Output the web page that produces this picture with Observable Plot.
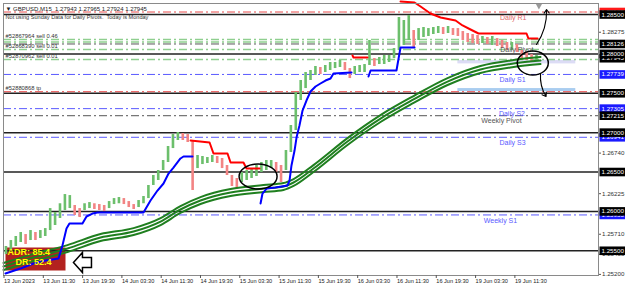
<!DOCTYPE html>
<html><head><meta charset="utf-8">
<script src="https://cdn.jsdelivr.net/npm/d3@7"></script>
<script src="https://cdn.jsdelivr.net/npm/@observablehq/plot@0.6"></script>
<style>body{margin:0;background:#fff}svg{display:block}</style>
</head><body><div id="chart"></div>
<script>
// ---------- data (M15 bars indexed from the first time tick; hourly ranges) ----------
const candleHigh = [1.25554,1.25630,1.25681,1.25732,1.25706,1.25757,1.25732,1.25757,1.25782,1.26036,
1.25986,1.26097,1.26214,1.26201,1.26075,1.26036,1.26097,1.26112,1.26097,1.26087,
1.26075,1.26125,1.26163,1.26176,1.26163,1.26125,1.26087,1.26138,1.26189,1.26329,
1.26456,1.26519,1.26646,1.26824,1.26976,1.27002,1.26989,1.26976,1.26900,1.26710,
1.26697,1.26684,1.26710,1.26697,1.26672,1.26583,1.26456,1.26418,1.26494,1.26519,
1.26544,1.26583,1.26621,1.26646,1.26646,1.26621,1.26583,1.26773,1.27091,1.27510,
1.27662,1.27764,1.27789,1.27840,1.27827,1.27853,1.27891,1.27891,1.27916,1.27891,
1.27814,1.27840,1.27853,1.27865,1.28170,1.27941,1.27954,1.27980,1.27980,1.28068,
1.28462,1.28424,1.28488,1.28297,1.28322,1.28335,1.28322,1.28335,1.28348,1.28335,
1.28348,1.28322,1.28322,1.28284,1.28259,1.28246,1.28234,1.28221,1.28208,1.28221,
1.28195,1.28170,1.28145,1.28145,1.28119,1.28043,1.28018,1.27992,1.27980];
const candleLow = [1.25452,1.25503,1.25554,1.25605,1.25580,1.25630,1.25630,1.25656,1.25681,1.25757,
1.25821,1.25910,1.26011,1.26036,1.25948,1.25922,1.26011,1.26036,1.26024,1.26011,
1.25998,1.26036,1.26087,1.26097,1.26087,1.26049,1.26024,1.26049,1.26097,1.26163,
1.26329,1.26392,1.26519,1.26621,1.26798,1.26900,1.26900,1.26875,1.26265,1.26544,
1.26595,1.26608,1.26621,1.26608,1.26544,1.26456,1.26316,1.26290,1.26367,1.26392,
1.26418,1.26443,1.26494,1.26519,1.26544,1.26494,1.26367,1.26519,1.26748,1.27027,
1.27408,1.27560,1.27662,1.27726,1.27738,1.27764,1.27789,1.27814,1.27827,1.27789,
1.27687,1.27738,1.27764,1.27764,1.27853,1.27840,1.27865,1.27865,1.27891,1.27941,
1.28043,1.28107,1.28170,1.28068,1.28170,1.28208,1.28221,1.28246,1.28259,1.28246,
1.28259,1.28234,1.28221,1.28170,1.28145,1.28132,1.28119,1.28132,1.28119,1.28107,
1.28094,1.28068,1.28043,1.28043,1.28018,1.27941,1.27916,1.27891,1.27916];

// moving-average ribbon (three lines)
const maBars  = [0,24.4,52.1,79.0,105.9,127.9,144.1,160.4,184.9,211.7,228.0,236.2,252.4,280.1,307.0,333.9,361.6,388.4,415.3,437.3];
const maUpper = [1.25344,1.25458,1.25572,1.25712,1.25788,1.25915,1.26068,1.26182,1.26284,1.26334,1.26360,1.26411,1.26588,1.26931,1.27223,1.27465,1.27693,1.27846,1.27922,1.27960];
const maMid   = [1.25300,1.25414,1.25528,1.25668,1.25744,1.25871,1.26024,1.26138,1.26240,1.26290,1.26316,1.26367,1.26544,1.26887,1.27179,1.27421,1.27649,1.27802,1.27878,1.27916];
const maLower = [1.25256,1.25370,1.25484,1.25624,1.25700,1.25827,1.25980,1.26094,1.26196,1.26246,1.26272,1.26323,1.26500,1.26843,1.27135,1.27377,1.27605,1.27758,1.27834,1.27872];

// blue trailing support
const supportBars   = [1.6,13.8,24.4,34.2,44.8,48.0,51.3,53.7,64.3,67.6,72.5,76.5,114.0,119.7,125.4,130.3,134.4,138.4,144.1,146.6,153.9,
  209.3,210.9,214.2,221.5,231.3,232.9,234.5,237.0,238.6,241.0,243.5,246.7,250.0,254.1,258.1,262.2,266.3,268.7,283.4,
  297.2,298.9,320.0,321.7,323.3,334.7];
const supportPrices = [1.25211,1.25274,1.25338,1.25376,1.25402,1.25567,1.25782,1.25846,1.25846,1.25935,1.25973,1.25986,1.25986,1.26138,1.26265,1.26354,1.26481,1.26557,1.26672,1.26697,1.26697,
  1.26100,1.26227,1.26290,1.26303,1.26329,1.26392,1.26583,1.26773,1.26938,1.27091,1.27281,1.27408,1.27522,1.27586,1.27624,1.27662,1.27687,1.27751,1.27764,
  1.27713,1.27789,1.27789,1.27941,1.28081,1.28081];
const supportSeg    = [1,1,1,1,1,1,1,1,1,1,1,1,1,1,1,1,1,1,1,1,1, 2,2,2,2,2,2,2,2,2,2,2,2,2,2,2,2,2,2,2, 3,3,3,3,3,3];

// red trailing resistance
const resistBars   = [152.3,167.8,171.0,182.4,184.9,195.4,197.9,208.5, 284.2,285.0,296.4, 323.3,334.7,339.6,347.7,355.9,368.1,373.8,380.3,386.8,425.9,427.5,434.9];
const resistPrices = [1.26900,1.26875,1.26735,1.26735,1.26621,1.26621,1.26544,1.26544, 1.27980,1.27954,1.27954, 1.28665,1.28653,1.28602,1.28513,1.28462,1.28424,1.28361,1.28310,1.28259,1.28259,1.28195,1.28195];
const resistSeg    = [1,1,1,1,1,1,1,1, 2,2,2, 3,3,3,3,3,3,3,3,3,3,3,3];

// horizontal levels
const roundLevels = [1.28500,1.28000,1.27500,1.27000,1.26500,1.26000,1.25500];
const orderLevels = [1.28183,1.28151,1.28056,1.27929];
const tpLevels    = [1.27520];
const pivotNames  = ["Daily R1","Daily Pivot","Daily S1","Daily S2","Weekly Pivot","Daily S3","Weekly S1"];
const pivotPrices = [1.28532,1.28126,1.27739,1.27305,1.27215,1.26941,1.25955];
const pivotKinds  = ["resistance","pivot","support","support","pivot","support","support"];
const pivotLabelBars = [415,418,414.5,414,405.5,414.5,404.7];

// order labels
const orderTexts  = ["#52867964 sell 0.46","#52868390 sell 0.01","#52870962 sell 0.01","#52880868 tp"];
const orderPrices = [1.28183,1.28056,1.27929,1.27520];

// zones
const zoneX1 = [370,370], zoneX2 = [466,466];
const zoneLow = [1.27873,1.27522], zoneHigh = [1.27916,1.27560];
const zoneKinds = ["lavender","sky"];

// right-axis tags
const redTags   = [1.28532];
const blueTags  = [1.27739,1.27305,1.26941,1.25955];
const bidTags   = [1.27945];
const blackTags = [1.28500,1.28126,1.28000,1.27500,1.27215,1.27000,1.26500,1.26000,1.25500];
const grayTicks = [1.28275,1.26740,1.26225,1.25710,1.25455,1.25200];

// time axis
const timeBars   = [0,32,64,96,128,160,192,224,256,288,320,352,384,416];
const timeLabels = ["13 Jun 2023","13 Jun 11:30","13 Jun 19:30","14 Jun 03:30","14 Jun 11:30","14 Jun 19:30","15 Jun 03:30","15 Jun 11:30","15 Jun 19:30","16 Jun 03:30","16 Jun 11:30","16 Jun 19:30","19 Jun 03:30","19 Jun 11:30"];

// texts
const headerLine = ["\u25BC GBPUSD,M15  1.27943 1.27965 1.27924 1.27945"];
const noteLine   = ["Not using Sunday Data for Daily Pivots.  Today is Monday"];
const adrLines   = ["ADR: 85.4"];
const drLines    = ["DR: 52.4"];

// hand-drawn annotations (bar, price)
const ellipseBars = [207.3, 431];
const ellipsePrices = [1.26443, 1.27884];
const arrowFromBar = [434.0, 437.3], arrowFromPrice = [1.28119, 1.27751];
const arrowToBar   = [442.2, 441.8], arrowToPrice   = [1.28564, 1.27459];
const hollowArrowBar = [64.3], hollowArrowPrice = [1.25351];
const shiftBar = [436];

// ---------- build ----------
const candles = candleHigh.map((hi, i) => ({
  bar: i * 4 + 2, hi, lo: candleLow[i],
  up: i === 0 || (hi + candleLow[i]) >= (candleHigh[i - 1] + candleLow[i - 1])
}));
const ma = maBars.map((b, i) => ({bar: b, u: maUpper[i], m: maMid[i], l: maLower[i]}));
const support = supportBars.map((b, i) => ({bar: b, p: supportPrices[i], s: supportSeg[i]}));
const resist = resistBars.map((b, i) => ({bar: b, p: resistPrices[i], s: resistSeg[i]}));
const pivots = pivotNames.map((n, i) => ({name: n, p: pivotPrices[i], kind: pivotKinds[i], bar: pivotLabelBars[i]}));
const orders = orderTexts.map((t, i) => ({t, p: orderPrices[i]}));
const zones = zoneX1.map((x, i) => ({x1: x, x2: zoneX2[i], y1: zoneLow[i], y2: zoneHigh[i], kind: zoneKinds[i]}));
const arrows = arrowFromBar.map((b, i) => ({x1: b, y1: arrowFromPrice[i], x2: arrowToBar[i], y2: arrowToPrice[i]}));

const pivotColor = {resistance: "#e84a4a", pivot: "#555555", support: "#5a5aff"};
const pivotText  = {resistance: "#e06a6a", pivot: "#555555", support: "#5a5aff"};
const zoneColor  = {lavender: "#dcdcf5", sky: "#a9cdf0"};
const DASHDOT = "8,3,2,3";

function ellipseSymbol(rx, ry) {
  const k = 0.5523;
  return {draw(ctx) {
    ctx.moveTo(rx, 0);
    ctx.bezierCurveTo(rx, ry * k, rx * k, ry, 0, ry);
    ctx.bezierCurveTo(-rx * k, ry, -rx, ry * k, -rx, 0);
    ctx.bezierCurveTo(-rx, -ry * k, -rx * k, -ry, 0, -ry);
    ctx.bezierCurveTo(rx * k, -ry, rx, -ry * k, rx, 0);
    ctx.closePath();
  }};
}
const rectSymbol = (x, y, w, h) => ({draw(ctx) { ctx.rect(x, y, w, h); }});
const tagBox = rectSymbol(1, -4.3, 26, 8.6);
const hollowLeft = {draw(ctx) {
  ctx.moveTo(-9, 0); ctx.lineTo(0, -10); ctx.lineTo(0, -5); ctx.lineTo(9, -5);
  ctx.lineTo(9, 5); ctx.lineTo(0, 5); ctx.lineTo(0, 10); ctx.closePath();
}};

const tagMarks = (values, color) => [
  Plot.dot(values, {y: d => d, frameAnchor: "right", symbol: tagBox, fill: color, stroke: "none"}),
  Plot.text(values, {y: d => d, frameAnchor: "right", text: d => d.toFixed(5), dx: 3, textAnchor: "start", fill: "white", fontSize: 6.2})
];

const plot = Plot.plot({
  width: 625, height: 286,
  marginTop: 3, marginBottom: 11, marginLeft: 3, marginRight: 27,
  x: {domain: [0, 484.5]},
  y: {domain: [1.25186, 1.2864]},
  color: {type: "identity"},
  style: {fontFamily: "'Liberation Sans', Arial, sans-serif", fontSize: "6px", background: "white", color: "#222", overflow: "visible"},
  marks: [
    // ADR box (under everything)
    Plot.dot(adrLines, {frameAnchor: "bottom-left", symbol: rectSymbol(2, -28, 60, 23), fill: "#b3221f", stroke: "none"}),
    // zones
    Plot.rect(zones, {x1: "x1", x2: "x2", y1: "y1", y2: "y2", fill: d => zoneColor[d.kind]}),
    // levels
    Plot.ruleY(roundLevels, {stroke: "#222", strokeWidth: 1.5}),
    Plot.ruleY(orderLevels, {stroke: "#8fcf8f", strokeWidth: 1.6, strokeDasharray: DASHDOT}),
    Plot.ruleY(tpLevels, {stroke: "#e84a4a", strokeWidth: 1, strokeDasharray: DASHDOT}),
    Plot.ruleY(pivots, {y: "p", stroke: d => pivotColor[d.kind], strokeWidth: 1, strokeDasharray: DASHDOT}),
    // candles
    Plot.ruleX(candles, {x: "bar", y1: "lo", y2: "hi", stroke: d => d.up ? "#6cbf6c" : "#f28484", strokeWidth: 2.6}),
    // MA ribbon
    Plot.line(ma, {x: "bar", y: "u", stroke: "#1f7f1f", strokeWidth: 2, curve: "monotone-x"}),
    Plot.line(ma, {x: "bar", y: "m", stroke: "#1f7f1f", strokeWidth: 2, curve: "monotone-x"}),
    Plot.line(ma, {x: "bar", y: "l", stroke: "#1f7f1f", strokeWidth: 2, curve: "monotone-x"}),
    // trailing lines
    Plot.line(support, {x: "bar", y: "p", z: "s", stroke: "#0000ff", strokeWidth: 2}),
    Plot.line(resist, {x: "bar", y: "p", z: "s", stroke: "#ff0000", strokeWidth: 2}),
    // ADR texts (above the ribbon)
    Plot.text(adrLines, {frameAnchor: "bottom-left", dx: 4, dy: -20.5, textAnchor: "start", fill: "#ffff00", fontWeight: "bold", fontSize: 9}),
    Plot.text(drLines, {frameAnchor: "bottom-left", dx: 12, dy: -10.5, textAnchor: "start", fill: "#ffff00", fontWeight: "bold", fontSize: 9}),
    // labels
    Plot.text(pivots, {x: "bar", y: "p", text: "name", dy: 5.5, fill: d => pivotText[d.kind], fontSize: 7}),
    Plot.text(orders, {y: "p", text: "t", frameAnchor: "left", dx: 2, dy: -3.5, textAnchor: "start", fill: "#333", fontSize: 5.8}),
    Plot.text(headerLine, {frameAnchor: "top-left", dx: 2, dy: 3.5, textAnchor: "start", fill: "#222", fontSize: 6}),
    Plot.text(noteLine, {frameAnchor: "top-left", dx: 2, dy: 12, textAnchor: "start", fill: "#333", fontSize: 5.6}),
    // annotations
    Plot.dot([0], {x: () => ellipseBars[0], y: () => ellipsePrices[0], symbol: ellipseSymbol(19, 12.5), stroke: "#000", strokeWidth: 1.5, fill: "none"}),
    Plot.dot([1], {x: () => ellipseBars[1], y: () => ellipsePrices[1], symbol: ellipseSymbol(15.5, 12), stroke: "#000", strokeWidth: 1.5, fill: "none"}),
    Plot.arrow(arrows, {x1: "x1", y1: "y1", x2: "x2", y2: "y2", bend: -18, stroke: "#000", strokeWidth: 1.1, headLength: 6, headAngle: 70}),
    Plot.dot(hollowArrowBar, {x: d => d, y: (d, i) => hollowArrowPrice[i], symbol: hollowLeft, fill: "white", stroke: "#000", strokeWidth: 1.5}),
    Plot.dot(shiftBar, {x: d => d, frameAnchor: "top", symbol: "triangle", rotate: 180, r: 2.5, fill: "#9a9a9a", stroke: "none", dy: 2}),
    // frame & axes
    Plot.frame({stroke: "#8a8a8a"}),
    Plot.axisX({ticks: timeBars, tickFormat: d => timeLabels[timeBars.indexOf(d)], tickSize: 3, tickPadding: 1, textAnchor: "start", dx: 0.5, fontSize: 5.6, label: null, stroke: "#555", fill: "#222"}),
    Plot.axisY({anchor: "right", ticks: grayTicks, tickFormat: d => d.toFixed(5), tickSize: 2, tickPadding: 1.5, fontSize: 6.2, label: null, stroke: "#555", fill: "#333"}),
    // price tags
    ...tagMarks(redTags, "#ff1a1a"),
    ...tagMarks(blueTags, "#1a1aff"),
    ...tagMarks(bidTags, "#000"),
    ...tagMarks(blackTags, "#000")
  ]
});
document.getElementById("chart").appendChild(plot);
</script></body></html>
